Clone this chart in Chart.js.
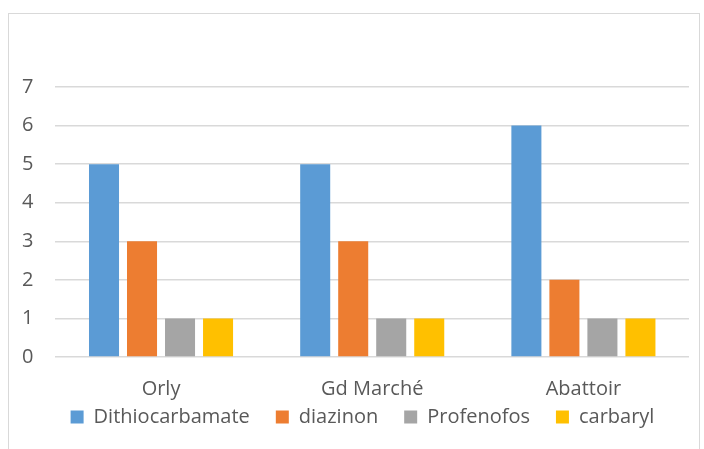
<!DOCTYPE html>
<html>
<head>
<meta charset="utf-8">
<script src="https://cdn.jsdelivr.net/npm/chart.js@4"></script>
<style>
  body { margin: 0; background: #fff; }
  #wrap { position: relative; width: 704px; height: 449px; }
  #frame { position: absolute; left: 8px; top: 13px; width: 692px; height: 440px; border: 1px solid #d9d9d9; box-sizing: border-box; }
  canvas { position: absolute; left: 0; top: 0; }
</style>
</head>
<body>
<div id="wrap">
  <div id="frame"></div>
  <canvas id="chart" width="704" height="449"></canvas>
</div>
<script>
const categories = ['Orly', 'Gd Marché', 'Abattoir'];
const dithiocarbamate = [5, 5, 6];
const diazinon = [3, 3, 2];
const profenofos = [1, 1, 1];
const carbaryl = [1, 1, 1];

const FONT = "'Open Sans', sans-serif";

function ds(label, data, color) {
  return { label, data, backgroundColor: color, borderWidth: 0, categoryPercentage: 0.72, barPercentage: 0.79 };
}

// wider gaps between legend items, without extra height
function legendLabels(chart) {
  const items = Chart.defaults.plugins.legend.labels.generateLabels(chart);
  return items.map((it, i) => ({ ...it, text: i < items.length - 1 ? it.text + '     ' : it.text }));
}

// nudge the legend right and up a bit, like the original
const legendShift = {
  id: 'legendShift',
  afterLayout(chart) {
    const lg = chart.legend;
    lg.left += 18;
    lg.right += 18;
    lg.top -= 6;
    lg.bottom -= 6;
  }
};

new Chart(document.getElementById('chart'), {
  type: 'bar',
  data: {
    labels: categories,
    datasets: [
      ds('Dithiocarbamate', dithiocarbamate, '#5b9bd5'),
      ds('diazinon', diazinon, '#ed7d31'),
      ds('Profenofos', profenofos, '#a5a5a5'),
      ds('carbaryl', carbaryl, '#ffc000')
    ]
  },
  plugins: [legendShift],
  options: {
    responsive: false,
    animation: false,
    layout: { padding: { top: 87, left: 0, right: 15, bottom: 6 } },
    plugins: {
      tooltip: { enabled: false },
      legend: {
        position: 'bottom',
        labels: {
          boxWidth: 13, boxHeight: 13, padding: 0,
          color: '#595959',
          font: { family: FONT, size: 20 },
          generateLabels: legendLabels
        }
      }
    },
    scales: {
      x: {
        grid: { display: false },
        border: { display: false },
        ticks: { color: '#595959', padding: 20, font: { family: FONT, size: 20, lineHeight: 0.4 } }
      },
      y: {
        min: 0, max: 7,
        grid: { color: '#d9d9d9', lineWidth: 1.5, drawTicks: false },
        border: { display: false },
        ticks: { stepSize: 1, color: '#595959', padding: 22, font: { family: FONT, size: 20 } }
      }
    }
  }
});
</script>
</body>
</html>
